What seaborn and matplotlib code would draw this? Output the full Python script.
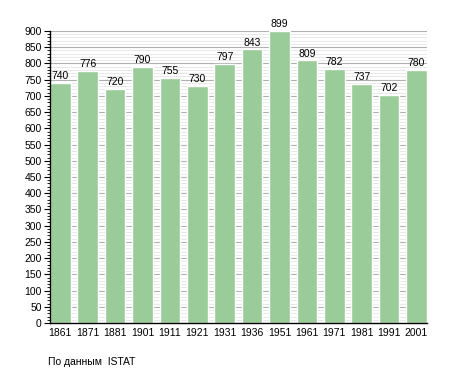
import matplotlib
matplotlib.use('Agg')
import matplotlib.pyplot as plt
import seaborn as sns
import pandas as pd
from matplotlib.ticker import MultipleLocator

years = ['1861', '1871', '1881', '1901', '1911', '1921', '1931', '1936',
         '1951', '1961', '1971', '1981', '1991', '2001']
population = [740, 776, 720, 790, 755, 730, 797, 843, 899, 809, 782, 737, 702, 780]

df = pd.DataFrame({'year': years, 'pop': population})

sns.set_style('white')
plt.rcParams['font.family'] = ['Liberation Sans', 'DejaVu Sans']
plt.rcParams['text.color'] = 'black'
plt.rcParams['xtick.color'] = 'black'
plt.rcParams['ytick.color'] = 'black'

fig = plt.figure(figsize=(4.55, 3.73), dpi=100)
ax = fig.add_axes([0.11, 0.134, 0.828, 0.783])

ax.set_ylim(0, 900)
ax.yaxis.set_major_locator(MultipleLocator(50))
ax.yaxis.set_minor_locator(MultipleLocator(10))
ax.grid(which='minor', axis='y', color='#e4e4e4', linewidth=0.6)
ax.grid(which='major', axis='y', color='#b0b0b0', linewidth=0.8)
ax.set_axisbelow(True)

sns.barplot(data=df, x='year', y='pop', color='#9acc9a', saturation=1,
            width=0.75, ax=ax)
ax.set_xlim(-0.375, len(years) - 0.625)

# value labels above each bar
for i, v in enumerate(population):
    ax.text(i, v + 6, str(v), ha='center', va='bottom', fontsize=7.5)

for s in ['top', 'right']:
    ax.spines[s].set_visible(False)
for s in ['left', 'bottom']:
    ax.spines[s].set_color('black')
    ax.spines[s].set_linewidth(1.0)

ax.tick_params(axis='y', which='major', left=True, length=4, width=0.8,
               labelsize=7.5, pad=2)
ax.tick_params(axis='y', which='minor', left=True, length=2, width=0.6)
ax.tick_params(axis='x', bottom=False, labelsize=7.5, pad=0)
ax.set_xlabel('')
ax.set_ylabel('')

fig.text(0.105, 0.03, 'По данным  ISTAT', fontsize=7.5, ha='left', va='center')

fig.savefig('out.png', dpi=100)
